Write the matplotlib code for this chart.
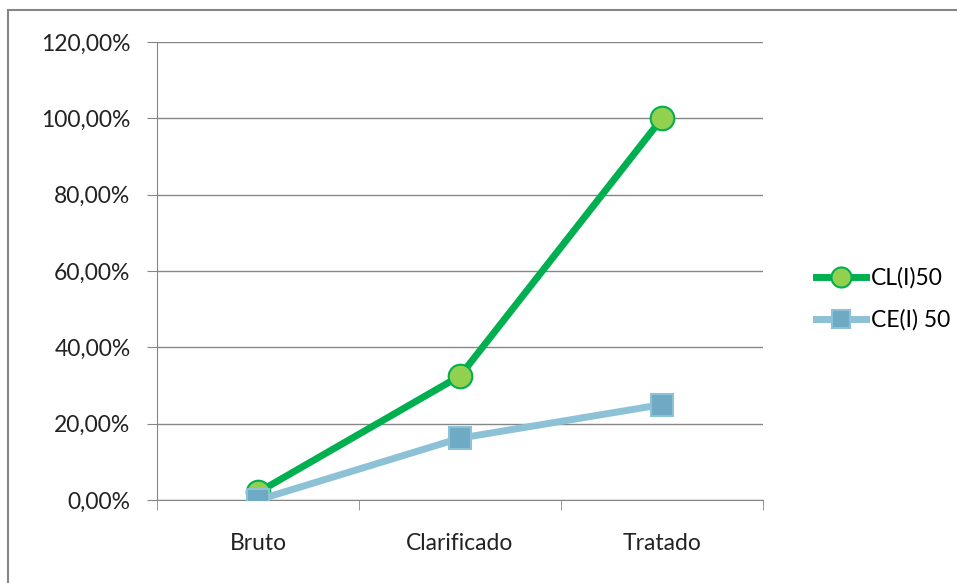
import matplotlib
matplotlib.use("Agg")
import matplotlib.pyplot as plt
from matplotlib.patches import Rectangle
from matplotlib.ticker import FuncFormatter

categories = ["Bruto", "Clarificado", "Tratado"]
cl_values = [2.0, 32.5, 100.0]
ce_values = [0.0, 16.2, 25.0]
series_names = ["CL(I)50", "CE(I) 50"]

plt.rcParams["font.family"] = ["Lato", "DejaVu Sans"]

W, H = 957, 583
fig = plt.figure(figsize=(W / 100, H / 100), dpi=100)

# outer chart border
fig.patches.append(Rectangle((8 / W, -0.05), 1.2, 1 - 10 / H + 0.05,
                             transform=fig.transFigure, fill=False,
                             edgecolor="#868686", lw=1.5))

ax = fig.add_axes([157 / W, 1 - 500 / H, (763 - 157) / W, (500 - 42) / H])
x = list(range(len(categories)))

ax.plot(x, cl_values, color="#00B050", lw=5, marker="o", ms=17,
        mfc="#92D050", mec="#00B050", mew=1.5, label=series_names[0], zorder=3)
ax.plot(x, ce_values, color="#8CC1D6", lw=5, marker="s", ms=16,
        mfc="#6FAAC4", mec="#8CC1D6", mew=1.5, label=series_names[1], zorder=4)

ax.set_xlim(-0.5, 2.5)
ax.set_ylim(0, 120)
ax.set_yticks(range(0, 121, 20))
ax.yaxis.set_major_formatter(FuncFormatter(lambda v, p: f"{v:.2f}%".replace(".", ",")))
ax.yaxis.grid(True, color="#868686", lw=1)
ax.set_axisbelow(True)

ax.set_xticks(x)
ax.set_xticklabels(categories)
ax.set_xticks([-0.5, 0.5, 1.5, 2.5], minor=True)
ax.tick_params(axis="x", which="major", length=0, pad=24, labelsize=16.5, colors="#222222")
ax.tick_params(axis="x", which="minor", length=7, color="#868686", direction="out")
ax.tick_params(axis="y", length=7, color="#868686", pad=12, labelsize=16.5, labelcolor="#222222")

for s in ["top", "right"]:
    ax.spines[s].set_visible(False)
ax.spines["left"].set_color("#868686")
ax.spines["bottom"].set_color("#868686")

fig.legend(loc="center left", bbox_to_anchor=(795 / W, 1 - 299 / H), frameon=False,
           fontsize=16.5, handlelength=2.2, labelspacing=0.9, handletextpad=0.2,
           markerscale=0.85)

fig.savefig("out.png", dpi=100)
